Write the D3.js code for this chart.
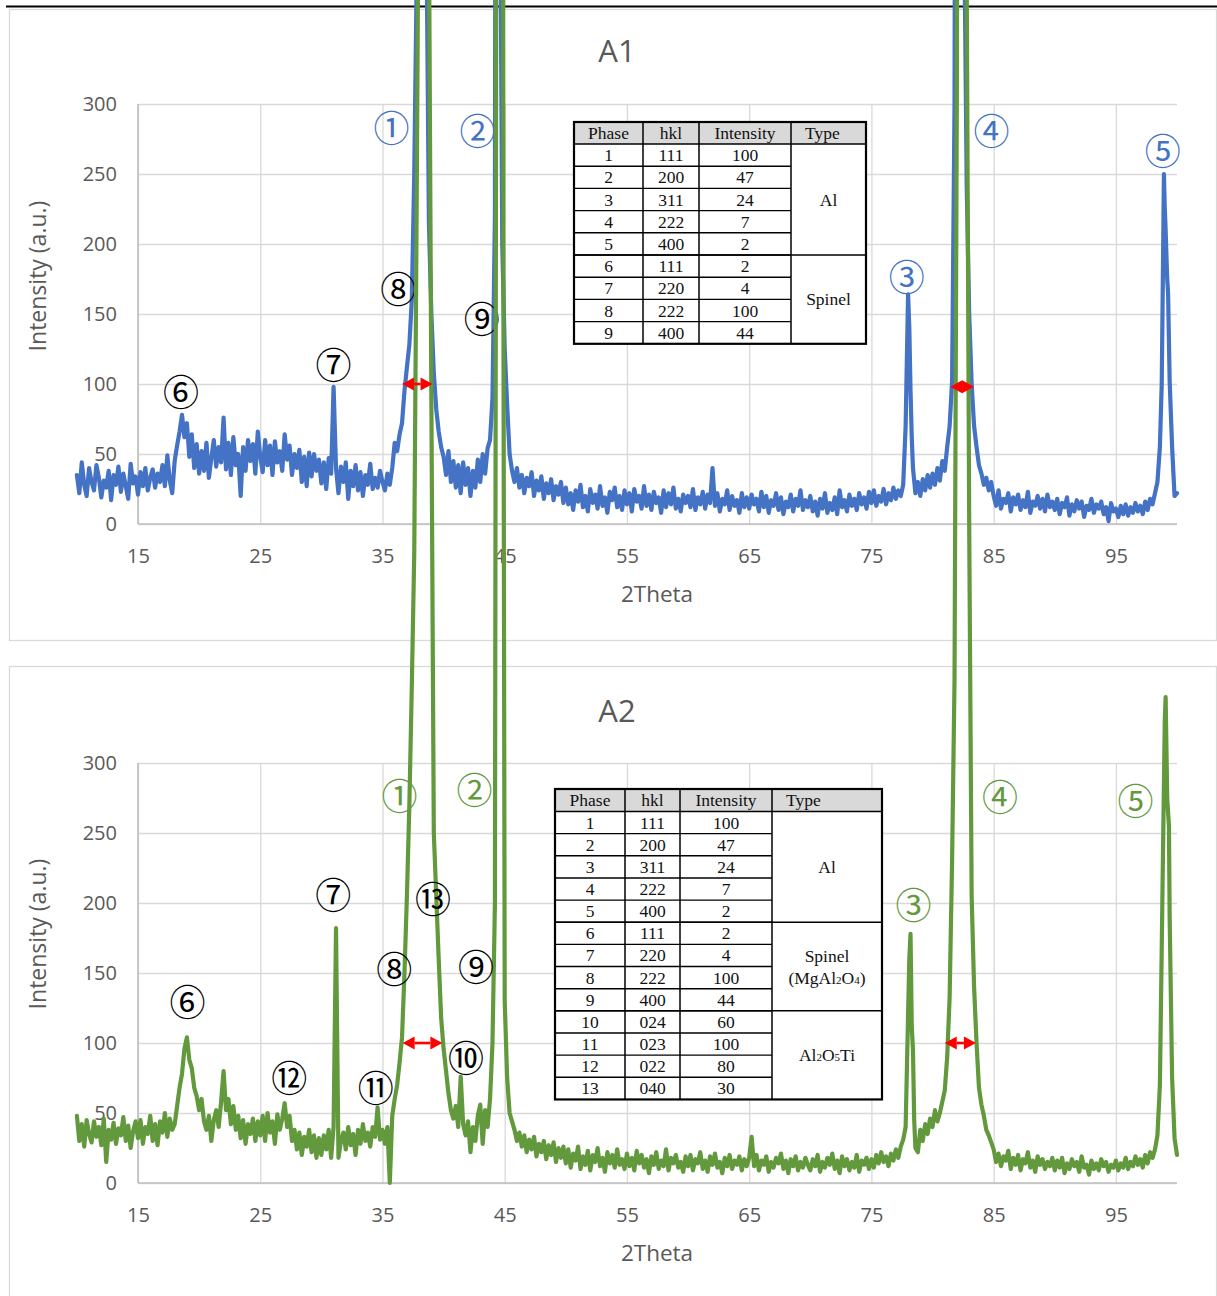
<!DOCTYPE html>
<html>
<head>
<meta charset="utf-8">
<script src="https://cdn.jsdelivr.net/npm/d3@7"></script>
<style>
  html, body { margin: 0; padding: 0; background: #fff; }
  svg { display: block; }
</style>
</head>
<body>
<svg id="chart" width="1217" height="1296"></svg>
<script>
// ---------- Scan data (2Theta from 10 to 100 deg, 0.2 deg step) ----------
const scanStart = 10, scanStep = 0.2;

// A1 intensities (a.u.)
const a1Scan = [
  35,22,44,28,20,40,30,24,42,33,19,31,26,38,17,35,28,41,23,36,27,18,43,29,34,
  21,37,27,40,24,33,39,26,36,30,42,27,49,31,22,45,56,66,78,62,72,48,64,40,57,
  36,52,38,58,33,47,60,41,55,44,76,39,58,35,62,42,50,20,55,38,60,45,57,36,66,
  48,37,60,42,56,35,59,44,52,38,64,46,56,35,50,40,53,30,48,27,51,34,50,38,46,
  29,44,25,47,36,98,40,22,41,30,44,18,38,27,42,24,37,20,35,28,43,25,33,26,38,
  30,24,36,28,40,58,52,64,72,95,112,128,160,250,390,1500,2600,1800,420,215,150,108,82,66,55,
  48,35,52,30,45,26,42,22,44,28,40,20,38,26,46,30,50,36,54,60,90,220,1500,2000,200,
  125,85,50,38,30,40,26,35,22,33,27,37,20,31,24,34,18,29,22,32,17,27,21,30,15,
  26,14,22,10,24,16,28,12,20,9,25,15,21,11,27,13,19,8,23,17,26,12,20,10,24,
  14,22,9,25,16,20,11,27,13,21,10,23,15,19,8,24,12,22,14,26,11,18,9,21,15,
  20,12,25,10,19,14,23,11,21,15,40,13,22,9,18,14,24,10,20,13,17,8,22,12,19,
  11,21,14,18,9,23,12,20,8,17,13,22,10,19,7,16,12,21,9,18,13,24,10,17,12,
  20,9,16,6,18,11,22,8,15,10,19,7,24,12,17,9,21,13,18,10,22,14,19,11,23,
  15,24,13,20,16,25,14,22,17,26,18,24,20,28,70,164,95,40,22,30,20,32,24,35,26,
  36,28,40,31,45,38,55,70,102,300,1200,1600,900,420,240,150,100,70,55,42,36,28,33,24,30,
  20,13,24,11,18,15,22,9,19,14,21,10,17,12,23,8,16,13,20,11,18,9,21,12,16,
  10,18,7,15,12,19,6,14,9,17,11,16,5,13,10,18,8,14,11,16,7,12,2,15,9,
  11,5,13,7,14,6,12,8,15,9,13,7,16,10,18,14,22,30,55,140,225,175,102,55,20,
  22
];
// A1 extra readings between scan steps (2Theta, intensity)
const a1Detail = [[44.68,380],[78.1,140],[78.3,62],[98.75,100],[98.85,181],[98.93,250],[99.05,215],[99.27,165]];

// A2 intensities (a.u.)
const a2Scan = [
  48,30,42,26,45,35,29,44,33,40,27,46,15,38,31,43,28,39,34,47,30,41,25,37,44,
  32,45,28,40,35,48,30,42,27,44,36,50,33,46,38,42,55,68,78,96,104,88,82,68,62,
  52,60,44,38,48,30,45,52,40,58,80,52,60,42,55,38,48,32,45,28,42,35,46,30,44,
  34,48,30,50,36,44,28,49,38,46,57,40,48,30,38,24,36,20,33,26,38,22,34,18,32,
  20,34,24,38,18,40,182,18,30,36,24,40,27,35,20,38,28,42,30,36,26,40,33,54,31,
  38,28,40,0,48,60,70,86,104,150,205,270,355,450,700,1000,4000,8000,4000,900,560,250,205,160,118,
  96,80,64,52,46,55,40,76,42,34,44,22,40,30,48,56,28,52,40,60,100,200,3000,8000,1600,
  130,75,50,44,38,30,36,26,34,22,31,24,33,19,28,22,30,17,27,20,29,15,25,18,26,
  14,24,11,21,16,26,10,19,13,23,9,20,15,25,12,18,8,22,14,20,11,24,13,17,10,
  21,12,18,9,23,14,20,11,17,7,19,13,22,10,16,12,24,9,18,14,20,11,15,8,19,
  12,20,9,17,14,22,10,16,8,19,13,21,11,15,7,18,12,20,10,16,13,19,9,17,12,
  18,33,12,20,9,16,13,19,8,15,11,18,14,21,10,16,7,17,12,19,9,15,11,18,13,
  9,17,12,20,8,15,11,18,13,21,10,16,7,19,12,17,9,15,11,20,8,16,13,18,10,
  17,11,20,14,22,15,19,12,21,16,24,18,26,31,40,120,178,95,25,22,38,30,42,35,46,
  40,52,44,50,58,66,90,133,230,360,800,4000,8000,4000,850,470,205,140,100,68,56,48,38,34,29,
  24,15,21,12,19,16,23,10,18,13,20,9,17,14,22,11,16,8,19,13,17,10,15,12,18,
  9,16,11,18,7,14,10,17,12,15,8,19,11,13,6,16,10,14,9,17,12,15,8,13,11,
  16,9,14,11,18,10,15,12,19,13,17,11,20,14,22,18,24,34,70,200,330,275,190,75,32,
  20
];
const a2Detail = [[44.3,800],[44.9,600],[78.1,160],[78.3,112],[78.5,45],[99.07,347],[99.34,255]];

// Axis ticks
const xTicks = [15,25,35,45,55,65,75,85,95];
const yTicks = [0,50,100,150,200,250,300];

// Peak width markers at half height: [from 2Theta, to 2Theta, intensity]
const a1Fwhm = [[36.6,39.1,100],[81.45,83.4,98]];
const a2Fwhm = [[36.65,39.9,100],[81.0,83.55,100]];

// Peak labels
const a1Marks = ['①','②','③','④','⑤','⑥','⑦','⑧','⑨'];
const a2Marks = ['①','②','③','④','⑤','⑥','⑦','⑧','⑨','⑩','⑪','⑫','⑬'];

// Reference tables
const hklA1 = ['111','200','311','222','400','111','220','222','400'];
const relIntA1 = [100,47,24,7,2,2,4,100,44];
const hklA2 = ['111','200','311','222','400','111','220','222','400','024','023','022','040'];
const relIntA2 = [100,47,24,7,2,2,4,100,44,60,100,80,30];
const typesA1 = [{label:['Al'], rows:[0,4]}, {label:['Spinel'], rows:[5,8]}];
const typesA2 = [{label:['Al'], rows:[0,4]}, {label:['Spinel','(MgAl2O4)'], rows:[5,8]}, {label:['Al2O5Ti'], rows:[9,12]}];
const tableHead = ['Phase','hkl','Intensity','Type'];

// ---------- Layout ----------
const svg = d3.select('#chart');
const x = d3.scaleLinear().domain([15, 100]).range([138, 1177]);
const sansFont = "'Open Sans', 'Noto Sans', sans-serif";
const serifFont = "'Liberation Serif', 'Times New Roman', serif";
const circFont = "'Noto Sans CJK JP', 'Noto Sans CJK SC', 'DejaVu Sans', sans-serif";
const textGrey = '#595959';

// label anchor positions in data units [2Theta, intensity]
const a1MarkAt = [[35.74,284],[42.77,282],[77.89,178],[84.82,282],[98.84,268],[18.52,96],[30.99,115],[36.29,169],[43.12,148]];
const a2MarkAt = [[36.39,278],[42.53,282],[78.44,200],[85.52,277],[96.6,274],[19.05,131],[30.98,207],[35.96,154.5],[42.65,155.7],[41.83,90.7],[34.45,69.6],[27.37,76.4],[39.13,204.3]];

const panels = [
  { name:'A1', scan:a1Scan, detail:a1Detail, color:'#4472C4', plotTop:104, plotBottom:524,
    frame:[9.5, 9.5, 1216.5, 640.5], titleY:50, xTitleY:593, yTitleY:276,
    marks:a1Marks, markAt:a1MarkAt, alCount:5, fwhm:a1Fwhm,
    table:{ cols:[574,643,699,791,866], top:122, headH:22, rowH:22.2, hkl:hklA1, inten:relIntA1, types:typesA1 } },
  { name:'A2', scan:a2Scan, detail:a2Detail, color:'#63993D', plotTop:763, plotBottom:1183,
    frame:[9.5, 666.5, 1216.5, 1302], titleY:710, xTitleY:1252, yTitleY:934,
    marks:a2Marks, markAt:a2MarkAt, alCount:5, fwhm:a2Fwhm,
    table:{ cols:[555,625,680,772,882], top:789, headH:22.5, rowH:22.15, hkl:hklA2, inten:relIntA2, types:typesA2 } }
];

function toPoints(scan, detail) {
  return scan.map((v, i) => [scanStart + i * scanStep, v])
    .concat(detail)
    .sort((a, b) => a[0] - b[0]);
}

// thin black rule along the top of the figure
svg.append('line').attr('x1', 6).attr('x2', 1217).attr('y1', 6.5).attr('y2', 6.5)
  .attr('stroke', '#000').attr('stroke-width', 2);

function drawFrameAndAxes(p) {
  const g = svg.append('g');
  const y = d3.scaleLinear().domain([0, 300]).range([p.plotBottom, p.plotTop]);
  p.y = y;
  const [fx0, fy0, fx1, fy1] = p.frame;
  g.append('rect').attr('x', fx0).attr('y', fy0).attr('width', fx1 - fx0).attr('height', fy1 - fy0)
    .attr('fill', '#fff').attr('stroke', '#d9d9d9').attr('stroke-width', 1.3);

  // horizontal grid + y labels
  const yAxis = d3.axisLeft(y).tickValues(yTicks).tickSize(-(x(100) - x(15))).tickPadding(21);
  const gy = g.append('g').attr('transform', `translate(${x(15)},0)`).call(yAxis);
  gy.select('.domain').remove();
  gy.selectAll('.tick line').attr('stroke', '#d9d9d9').attr('stroke-width', 1.3);
  gy.selectAll('.tick text').attr('fill', textGrey).style('font-family', sansFont).style('font-size', '20px');

  // vertical grid + x labels
  const xAxis = d3.axisBottom(x).tickValues(xTicks).tickSize(-(p.plotBottom - p.plotTop)).tickPadding(25);
  const gx = g.append('g').attr('transform', `translate(0,${y(0)})`).call(xAxis);
  gx.select('.domain').remove();
  gx.selectAll('.tick line').attr('stroke', '#d9d9d9').attr('stroke-width', 1.3);
  gx.selectAll('.tick text').attr('fill', textGrey).style('font-family', sansFont).style('font-size', '20px');

  // axis lines
  g.append('line').attr('x1', x(15)).attr('x2', x(15)).attr('y1', y(0)).attr('y2', y(300))
    .attr('stroke', '#bfbfbf').attr('stroke-width', 1.6);
  g.append('line').attr('x1', x(15)).attr('x2', x(100)).attr('y1', y(0)).attr('y2', y(0))
    .attr('stroke', '#bfbfbf').attr('stroke-width', 1.6);

  // titles
  g.append('text').attr('x', 617).attr('y', p.titleY).attr('text-anchor', 'middle')
    .attr('dominant-baseline', 'central').attr('fill', textGrey)
    .style('font-family', sansFont).style('font-size', '31px').text(p.name);
  g.append('text').attr('x', 657).attr('y', p.xTitleY).attr('text-anchor', 'middle')
    .attr('dominant-baseline', 'central').attr('fill', textGrey)
    .style('font-family', sansFont).style('font-size', '22.5px').text('2Theta');
  g.append('text').attr('transform', `translate(37,${p.yTitleY}) rotate(-90)`).attr('text-anchor', 'middle')
    .attr('dominant-baseline', 'central').attr('fill', textGrey)
    .style('font-family', sansFont).style('font-size', '23px').text('Intensity (a.u.)');
}

function drawSeries(p) {
  const y = p.y;
  svg.append('path').datum(toPoints(p.scan, p.detail))
    .attr('d', d3.line().x(d => x(d[0])).y(d => y(d[1])))
    .attr('fill', 'none').attr('stroke', p.color).attr('stroke-width', 4.2)
    .attr('stroke-linejoin', 'round').attr('stroke-linecap', 'round');
}

function drawMarks(p) {
  const y = p.y;
  svg.append('g').selectAll('text').data(p.marks).join('text')
    .attr('x', (d, i) => x(p.markAt[i][0]))
    .attr('y', (d, i) => y(p.markAt[i][1]))
    .attr('text-anchor', 'middle').attr('dominant-baseline', 'central')
    .attr('fill', (d, i) => i < p.alCount ? p.color : '#000')
    .style('font-family', circFont).style('font-size', '36px')
    .text(d => d);
}

function writeChem(sel, str, big, small) {
  // digits in formulas are set small
  const parts = str.match(/\d+|[^\d]+/g);
  const isFormula = /[A-Za-z]\d/.test(str);
  parts.forEach(s => {
    const t = sel.append('tspan').text(s);
    if (isFormula && /^\d+$/.test(s)) t.style('font-size', small + 'px');
  });
}

function drawTable(t) {
  const g = svg.append('g');
  const c = t.cols, n = t.hkl.length;
  const bodyTop = t.top + t.headH;
  const bottom = bodyTop + n * t.rowH;
  const rowY = i => bodyTop + i * t.rowH;
  g.append('rect').attr('x', c[0]).attr('y', t.top).attr('width', c[4] - c[0]).attr('height', bottom - t.top).attr('fill', '#fff');
  g.append('rect').attr('x', c[0]).attr('y', t.top).attr('width', c[4] - c[0]).attr('height', t.headH).attr('fill', '#d9d9d9');

  // row rules across first three columns
  for (let i = 1; i < n; i++) {
    g.append('line').attr('x1', c[0]).attr('x2', c[3]).attr('y1', rowY(i)).attr('y2', rowY(i))
      .attr('stroke', '#000').attr('stroke-width', 1.4);
  }
  // group rules across all columns
  t.types.forEach((tp, k) => {
    if (k === 0) return;
    const yy = rowY(tp.rows[0]);
    g.append('line').attr('x1', c[0]).attr('x2', c[4]).attr('y1', yy).attr('y2', yy)
      .attr('stroke', '#000').attr('stroke-width', 1.5);
  });
  // header rule
  g.append('line').attr('x1', c[0]).attr('x2', c[4]).attr('y1', bodyTop).attr('y2', bodyTop)
    .attr('stroke', '#000').attr('stroke-width', 1.6);
  // column rules
  [1, 2, 3].forEach(k => {
    g.append('line').attr('x1', c[k]).attr('x2', c[k]).attr('y1', t.top).attr('y2', bottom)
      .attr('stroke', '#000').attr('stroke-width', 1.5);
  });
  // outer border
  g.append('rect').attr('x', c[0]).attr('y', t.top).attr('width', c[4] - c[0]).attr('height', bottom - t.top)
    .attr('fill', 'none').attr('stroke', '#000').attr('stroke-width', 2.2);

  const fs = 17.5, base = 6;
  const txt = (xx, yy, anchor) => g.append('text').attr('x', xx).attr('y', yy + base)
    .attr('text-anchor', anchor).attr('fill', '#111')
    .style('font-family', serifFont).style('font-size', fs + 'px');

  // header
  const hy = t.top + t.headH / 2;
  txt((c[0] + c[1]) / 2, hy, 'middle').text(tableHead[0]);
  txt((c[1] + c[2]) / 2, hy, 'middle').text(tableHead[1]);
  txt((c[2] + c[3]) / 2, hy, 'middle').text(tableHead[2]);
  txt(c[3] + 14, hy, 'start').text(tableHead[3]);

  // body
  t.hkl.forEach((h, i) => {
    const cy = rowY(i) + t.rowH / 2;
    txt((c[0] + c[1]) / 2, cy, 'middle').text(i + 1);
    txt((c[1] + c[2]) / 2, cy, 'middle').text(h);
    txt((c[2] + c[3]) / 2, cy, 'middle').text(t.inten[i]);
  });
  t.types.forEach(tp => {
    const mid = (rowY(tp.rows[0]) + rowY(tp.rows[1] + 1)) / 2;
    const lh = 22;
    tp.label.forEach((s, j) => {
      const cy = mid + (j - (tp.label.length - 1) / 2) * lh;
      writeChem(txt((c[3] + c[4]) / 2, cy, 'middle'), s, fs, 11);
    });
  });
}

function drawArrow(p, seg) {
  const y = p.y;
  const x1 = x(seg[0]), x2 = x(seg[1]), yy = y(seg[2]);
  const h = 12, w = 6.5;
  const g = svg.append('g');
  const mid = (x1 + x2) / 2;
  const s1 = Math.min(x1 + h, mid), s2 = Math.max(x2 - h, mid);
  g.append('line').attr('x1', s1).attr('x2', s2).attr('y1', yy).attr('y2', yy)
    .attr('stroke', '#ff0000').attr('stroke-width', 2.6);
  g.append('path').attr('d', `M${x1},${yy}L${x1 + h},${yy - w}L${x1 + h},${yy + w}Z`).attr('fill', '#ff0000');
  g.append('path').attr('d', `M${x2},${yy}L${x2 - h},${yy - w}L${x2 - h},${yy + w}Z`).attr('fill', '#ff0000');
}

// ---------- Draw ----------
const [pA1, pA2] = panels;
drawFrameAndAxes(pA1);
drawSeries(pA1);
drawTable(pA1.table);
drawMarks(pA1);

drawFrameAndAxes(pA2);
drawTable(pA2.table);
drawSeries(pA2);
drawMarks(pA2);

pA1.fwhm.forEach(s => drawArrow(pA1, s));
pA2.fwhm.forEach(s => drawArrow(pA2, s));
</script>
</body>
</html>
